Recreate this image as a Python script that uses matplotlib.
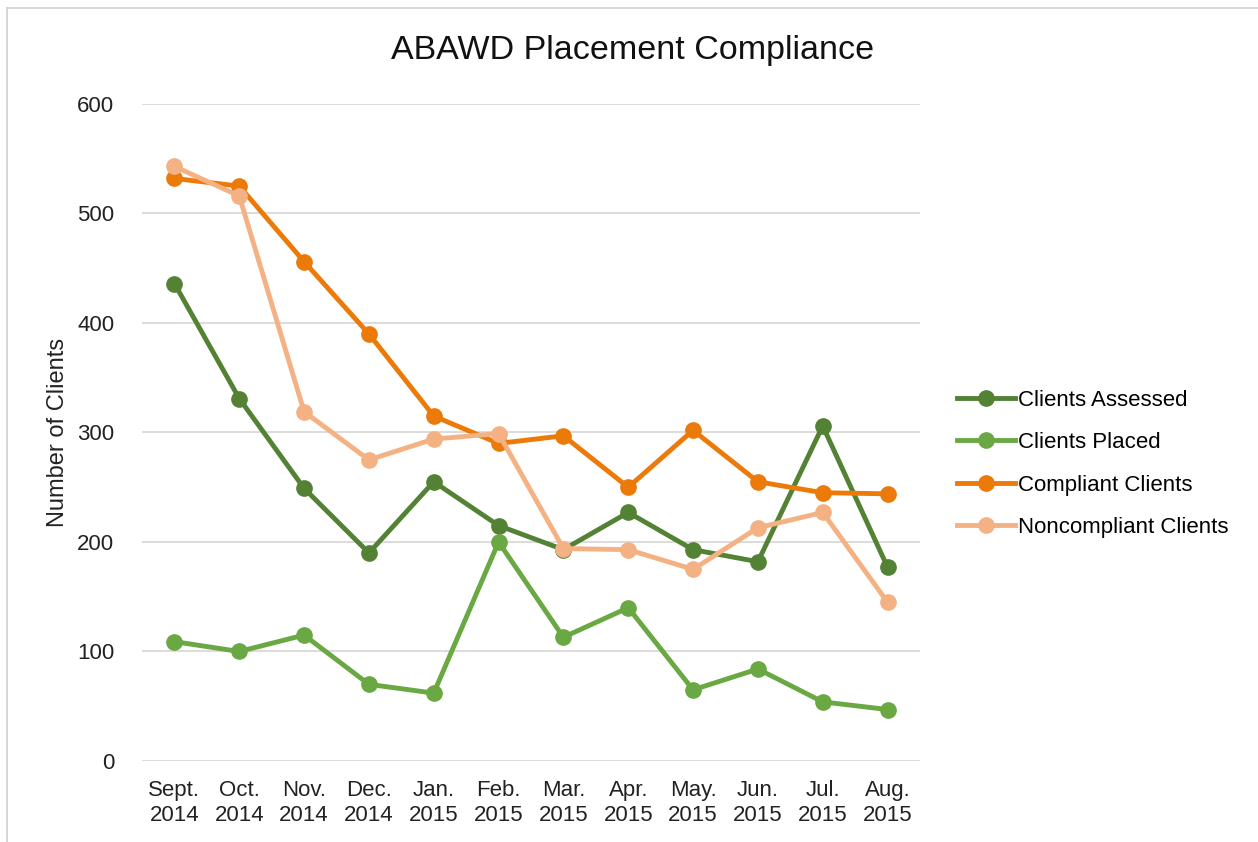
import matplotlib.pyplot as plt
from matplotlib.lines import Line2D

months = ['Sept.\n2014', 'Oct.\n2014', 'Nov.\n2014', 'Dec.\n2014', 'Jan.\n2015', 'Feb.\n2015',
          'Mar.\n2015', 'Apr.\n2015', 'May.\n2015', 'Jun.\n2015', 'Jul.\n2015', 'Aug.\n2015']
assessed = [436, 331, 249, 190, 255, 215, 193, 227, 193, 182, 306, 177]
placed = [109, 100, 115, 70, 62, 200, 113, 140, 65, 84, 54, 47]
compliant = [532, 525, 456, 390, 315, 290, 297, 250, 302, 255, 245, 244]
noncompliant = [543, 516, 319, 275, 294, 299, 194, 193, 175, 213, 227, 145]

plt.rcParams['font.family'] = ['Liberation Sans', 'DejaVu Sans']

fig = plt.figure(figsize=(12.58, 8.42), dpi=100)
ax = fig.add_axes([0.1129, 0.0962, 0.6184, 0.7803])

series = [
    ('Clients Assessed', assessed, '#548235'),
    ('Clients Placed', placed, '#6aa843'),
    ('Compliant Clients', compliant, '#ec7a08'),
    ('Noncompliant Clients', noncompliant, '#f4b183'),
]
x = range(len(months))
for name, vals, col in series:
    ax.plot(x, vals, color=col, lw=3.5, marker='o', ms=11, label=name,
            solid_capstyle='round')

ax.set_xlim(-0.5, len(months) - 0.5)
ax.set_ylim(0, 600)
ax.set_yticks(range(0, 601, 100))
ax.set_xticks(list(x))
ax.set_xticklabels(months, fontsize=16, color='#222222', linespacing=1.2)
ax.tick_params(axis='y', labelsize=16, colors='#222222', length=0, pad=20)
ax.tick_params(axis='x', length=0, pad=14)
ax.grid(axis='y', color='#d9d9d9', lw=1.3)
ax.set_axisbelow(True)
for s in ax.spines.values():
    s.set_visible(False)
ax.set_ylabel('Number of Clients', fontsize=17, color='#222222', labelpad=6)

fig.text(0.503, 0.94, 'ABAWD Placement Compliance', ha='center', va='center',
         fontsize=24.5, color='#111111')

handles = [Line2D([], [], color=c, lw=3.5, marker='o', ms=11) for _, _, c in series]
fig.legend(handles, [s[0] for s in series], loc='center left',
           bbox_to_anchor=(0.745, 0.449), frameon=False, fontsize=16,
           labelspacing=0.97, handlelength=2.6, handletextpad=0.12)

# chart frame
fig.add_artist(Line2D([7 / 1258, 7 / 1258], [0, 1 - 8 / 842], color='#d0d0d0', lw=1.2))
fig.add_artist(Line2D([7 / 1258, 1], [1 - 8 / 842, 1 - 8 / 842], color='#d0d0d0', lw=1.2))

fig.savefig('out.png', dpi=100, facecolor='white')
